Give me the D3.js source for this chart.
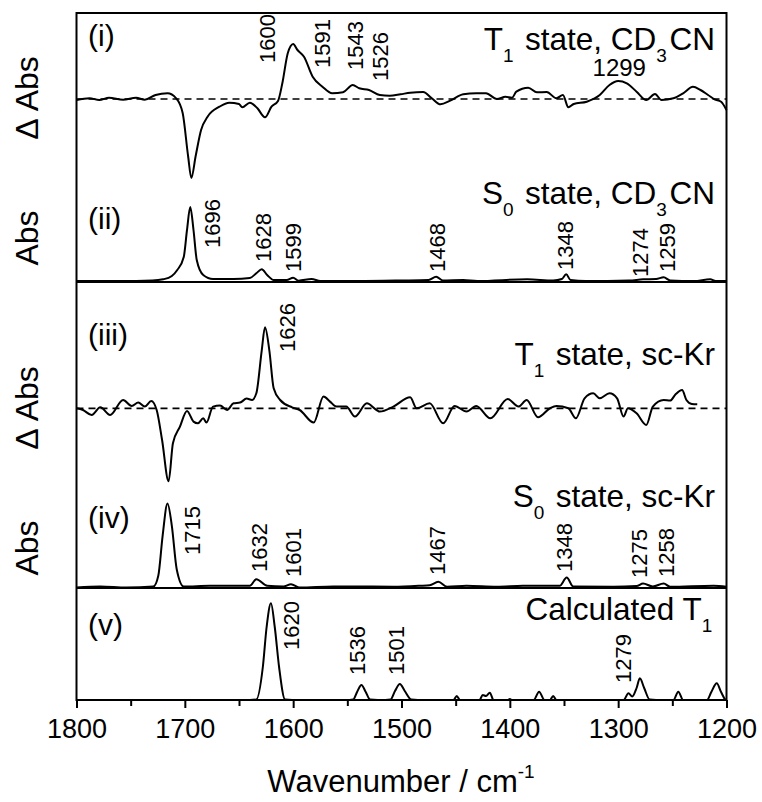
<!DOCTYPE html>
<html>
<head>
<meta charset="utf-8">
<script src="https://cdn.jsdelivr.net/npm/d3@7"></script>
<style>
  html, body { margin: 0; padding: 0; background: #fff; }
  svg { display: block; }
  text { font-family: "Liberation Sans", Arial, sans-serif; fill: #000; }
</style>
</head>
<body>
<svg id="chart" width="762" height="802"></svg>
<script>
// ---------------- DATA ----------------
// x axis (wavenumber, cm^-1)
const xDomain = [1800, 1200];
const xTickValues = [1800, 1750, 1700, 1650, 1600, 1550, 1500, 1450, 1400, 1350, 1300, 1250, 1200];
const xTickLabels = ["1800", "1700", "1600", "1500", "1400", "1300", "1200"];

// (i) T1 state, CD3CN  — difference spectrum [wavenumber, ΔAbs (arb.)]
const spectrumT1CD3CN = [
  [1800,-1],[1788,0.7],[1779,-1],[1770,1.3],[1757,-0.7],[1745,1.3],[1737,-0.7],[1727,4],[1716,5.7],
  [1708,0.7],[1702,-14],[1697,-57],[1694,-79],[1690,-57],[1685,-31],[1679,-17.7],[1668,-7.7],[1659,-3.7],
  [1650,-5],[1647,-8.3],[1640,-3.7],[1633,-9.3],[1626,-18.3],[1620,-7.7],[1614,-2],[1610,15.7],[1605,45.7],
  [1600,55],[1596,49],[1590,42.3],[1582,22.3],[1573,12.3],[1564,5.7],[1554,6.7],[1545,14],[1539,10.7],
  [1530,9],[1520,4],[1511,3.3],[1501,4.7],[1492,6.3],[1480,7],[1472,0.7],[1464,-5.3],[1455,-1.7],
  [1443,4.7],[1431,5.7],[1422,5.7],[1412,0],[1404,2.3],[1398,1.3],[1394,7.3],[1383,11.3],[1375,6.7],
  [1366,7],[1357,0.7],[1351,4],[1346,-8.3],[1341,-5],[1329,-2.7],[1317,4],[1308,14],[1300,18],
  [1292,15.7],[1283,7.3],[1274,-1],[1266,5],[1260,-1],[1249,0.7],[1240,5.7],[1231,12.3],[1224,9],
  [1217,4],[1211,-0.3],[1205,-2.7],[1200,-11]
];
// (ii) S0 state, CD3CN — absorbance [wavenumber, Abs (arb.)]
const spectrumS0CD3CN = [
  [1800,0],[1760,0],[1730,0.5],[1720,1.7],[1712,5],[1707,11],[1701,24],[1698,51],[1695,74],[1692,51],
  [1689,21],[1683,6],[1674,2],[1655,2],[1640,3],[1634,7.7],[1629,11.7],[1624,6],[1618,1],[1606,1],
  [1600,3.3],[1595,0.3],[1583,2],[1575,0],[1540,0],[1500,0.5],[1475,1],[1468,4.3],[1462,0.5],[1443,1],
  [1430,0],[1384,1.7],[1360,0.5],[1352,2],[1348,6.7],[1344,1],[1330,0],[1290,0.5],[1277,1.7],[1265,2],
  [1258,3.7],[1252,0.5],[1230,0],[1215,1.7],[1210,0],[1200,0]
];
// (iii) T1 state, sc-Kr — difference spectrum
const spectrumT1Kr = [
  [1800,0],[1794,-1.7],[1786,-6.7],[1778,1],[1769,-6.7],[1757,8.3],[1749,2.3],[1743,5.7],[1737,1.7],
  [1731,7.3],[1726,-1.7],[1721,-31.7],[1715,-73],[1711,-35],[1704.5,-18.3],[1698,-2.7],[1692,-13.3],
  [1688,-15],[1683,-10],[1680,-14.3],[1674,1.7],[1667.5,2.7],[1661,-1.7],[1655,5],[1649,5.7],[1643,9.7],
  [1638,8.3],[1634,15],[1629,58],[1626,81],[1622,58],[1618,20],[1612,8.3],[1601,1],[1594,-1.7],
  [1581,-14.3],[1572,11.7],[1566,6.7],[1560,1.7],[1551,1.7],[1543,-8.3],[1532,5],[1523,-1.7],[1520,-3.3],
  [1507.5,1.7],[1492,11],[1486,0],[1474,5],[1461.5,-15],[1451,2.3],[1440,-3.3],[1431,2.3],[1418,-10],
  [1402,9.3],[1392,1.7],[1384.5,8.3],[1374,-9],[1363,0],[1357,2.3],[1346,0],[1339,-10],[1331,10],
  [1323,15],[1317,10],[1308,15],[1301,10],[1295,-8.3],[1291,0],[1283,-5],[1274,-16.7],[1268,1.7],
  [1258,8.3],[1252,7.7],[1247,14],[1241,18.3],[1237,8.3],[1232,4.3],[1227,4]
];
// (iv) S0 state, sc-Kr — absorbance
const spectrumS0Kr = [
  [1800,0],[1778,1],[1754,0],[1729,1],[1724.5,11.7],[1720.5,51.7],[1716,84],[1712,61.7],[1707.5,18.3],
  [1701,1],[1677,1.7],[1655,1.7],[1640,1.7],[1634,8.3],[1624,1.7],[1609,1],[1602,3.3],[1594,0],
  [1563,1],[1541,1],[1507.5,0.7],[1483,1.7],[1474,2.3],[1466,5.7],[1458,0.7],[1440,1.7],[1412,0.7],
  [1388,1.7],[1354,1.7],[1347.5,10],[1341.5,1],[1304.5,0.7],[1283,1.5],[1277,4],[1268,1],[1258,4],
  [1252,0.7],[1212,1.7],[1200,0.7]
];
// (v) Calculated T1 — absorbance
const spectrumCalcT1 = [
  [1800,0],[1640,0],[1634,0.5],[1628,33],[1624.5,73],[1620.5,96.7],[1617,73],[1613,33],[1607.5,0.5],
  [1601,0],[1548,0],[1544.5,0.5],[1541,8],[1537,15],[1533,8],[1529,0.5],[1515,0],[1510,0.5],[1506,9],
  [1501.5,16],[1497,9],[1491,0.5],[1485,0],[1452,0],[1449,4],[1446,0],[1428,0],[1425,5],[1422,4],
  [1418.5,7.3],[1415,0],[1402,0],[1400,1],[1398,0],[1378,0],[1373,8.3],[1368,0],[1363,0],[1360,4],
  [1357,0],[1295,0],[1290.5,6.7],[1287,3.5],[1283,12],[1280,21.7],[1276,12],[1271,0.5],[1265,0],
  [1249,0],[1244.5,8.3],[1240,0],[1218,0],[1214,8],[1209,16.7],[1205,8],[1201,0.5],[1200,0]
];

// Peak labels (text values)
const labelsT1CD3CN = ["1600", "1591", "1543", "1526"];
const labelT1CD3CNHorizontal = ["1299"];
const labelsS0CD3CN = ["1696", "1628", "1599", "1468", "1348", "1274", "1259"];
const labelsT1Kr = ["1626"];
const labelsS0Kr = ["1715", "1632", "1601", "1467", "1348", "1275", "1258"];
const labelsCalcT1 = ["1620", "1536", "1501", "1279"];

const panelNames = ["(i)", "(ii)", "(iii)", "(iv)", "(v)"];

// ---------------- LAYOUT ----------------
const plotLeft = 76.5, plotRight = 726.5, plotTop = 13, plotBottom = 700;
const panelSeparators = [282, 588];      // internal frame lines (px)
const svg = d3.select("#chart");

const x = d3.scaleLinear().domain(xDomain).range([plotLeft, plotRight]);

// each spectrum: own baseline, arbitrary units
function yScale(baseline) { return d3.scaleLinear().domain([0, 100]).range([baseline, baseline - 100]); }
const yI = yScale(99), yII = yScale(281), yIII = yScale(408.3), yIV = yScale(587.5), yV = yScale(700);

function drawSpectrum(data, y) {
  const line = d3.line().x(d => x(d[0])).y(d => y(d[1])).curve(d3.curveMonotoneX);
  svg.append("path").datum(data)
    .attr("d", line)
    .attr("fill", "none")
    .attr("stroke", "#000")
    .attr("stroke-width", 2)
    .attr("stroke-linejoin", "round");
}
function drawZero(y) {
  svg.append("line")
    .attr("x1", plotLeft).attr("x2", plotRight)
    .attr("y1", y(0)).attr("y2", y(0))
    .attr("stroke", "#000").attr("stroke-width", 1.7)
    .attr("stroke-dasharray", "7,5");
}

drawZero(yI);
drawZero(yIII);
drawSpectrum(spectrumT1CD3CN, yI);
drawSpectrum(spectrumS0CD3CN, yII);
drawSpectrum(spectrumT1Kr, yIII);
drawSpectrum(spectrumS0Kr, yIV);
drawSpectrum(spectrumCalcT1, yV);

// frame
svg.append("rect")
  .attr("x", plotLeft).attr("y", plotTop)
  .attr("width", plotRight - plotLeft).attr("height", plotBottom - plotTop)
  .attr("fill", "none").attr("stroke", "#000").attr("stroke-width", 2);
panelSeparators.forEach(py => {
  svg.append("line").attr("x1", plotLeft).attr("x2", plotRight)
    .attr("y1", py).attr("y2", py).attr("stroke", "#000").attr("stroke-width", 2);
});

// bottom axis
const xAxis = d3.axisBottom(x)
  .tickValues(xTickValues)
  .tickSize(8)
  .tickPadding(10)
  .tickFormat(d => xTickLabels.includes(String(d)) ? String(d) : "");
const gx = svg.append("g").attr("transform", `translate(0,${plotBottom})`).call(xAxis);
gx.select(".domain").remove();
gx.selectAll(".tick line").attr("stroke", "#000").attr("stroke-width", 2)
  .attr("y2", d => (d % 100 === 0 ? 8 : 6));
gx.selectAll(".tick text").attr("font-size", 27).attr("font-family", "'Liberation Sans', Arial, sans-serif")
  .attr("fill", "#000").attr("dy", "0.75em");

// x title
const xt = svg.append("text").attr("x", 401).attr("y", 792).attr("text-anchor", "middle").attr("font-size", 31);
xt.append("tspan").text("Wavenumber / cm");
xt.append("tspan").attr("dy", -14).attr("font-size", 19).text("-1");

// y labels
const yLabels = [["Δ Abs", 98], ["Abs", 238], ["Δ Abs", 408], ["Abs", 548]];
yLabels.forEach(([t, cy]) => {
  svg.append("text").attr("transform", `translate(38,${cy}) rotate(-90)`)
    .attr("text-anchor", "middle").attr("font-size", 32).text(t);
});

// panel labels
const panelLabelY = [46, 229, 345, 528, 635];
panelNames.forEach((t, i) => {
  svg.append("text").attr("x", 88).attr("y", panelLabelY[i]).attr("font-size", 30).text(t);
});

// titles with subscripts
function title(parts, yBase) {
  const t = svg.append("text").attr("x", 715).attr("y", yBase).attr("text-anchor", "end").attr("font-size", 31.5);
  parts.forEach(p => {
    if (p.sub) {
      t.append("tspan").attr("dy", 12).attr("font-size", 19).text(p.sub);
      t.append("tspan").attr("dy", -12).text("\u200A");
    } else {
      t.append("tspan").text(p.t);
    }
  });
}
title([{t: "T"}, {sub: "1"}, {t: " state, CD"}, {sub: "3"}, {t: "CN"}], 50);
title([{t: "S"}, {sub: "0"}, {t: " state, CD"}, {sub: "3"}, {t: "CN"}], 204);
title([{t: "T"}, {sub: "1"}, {t: " state, sc-Kr"}], 365);
title([{t: "S"}, {sub: "0"}, {t: " state, sc-Kr"}], 507);
title([{t: "Calculated T"}, {sub: "1"}], 620);

// peak annotations (rotated); positions: [wavenumber at label centre, bottom px]
function rotatedLabels(texts, places) {
  texts.forEach((t, i) => {
    const [wn, bottom] = places[i];
    svg.append("text")
      .attr("transform", `translate(${x(wn) + 8},${bottom}) rotate(-90)`)
      .attr("font-size", 22).text(t);
  });
}
rotatedLabels(labelsT1CD3CN, [[1624, 63], [1573, 68], [1543, 70], [1520, 81]]);
svg.append("text").attr("x", x(1299)).attr("y", 76).attr("text-anchor", "middle")
  .attr("font-size", 24).text(labelT1CD3CNHorizontal[0]);
rotatedLabels(labelsS0CD3CN, [[1675, 248], [1628, 262], [1600, 272], [1467, 272], [1349, 270], [1280, 277], [1255, 272]]);
rotatedLabels(labelsT1Kr, [[1606, 352]]);
rotatedLabels(labelsS0Kr, [[1693, 555], [1631.5, 572], [1600, 577], [1467, 575], [1350, 572], [1281, 578], [1256, 577]]);
rotatedLabels(labelsCalcT1, [[1602, 650], [1541, 675], [1505, 675], [1296, 683]]);
</script>
</body>
</html>
